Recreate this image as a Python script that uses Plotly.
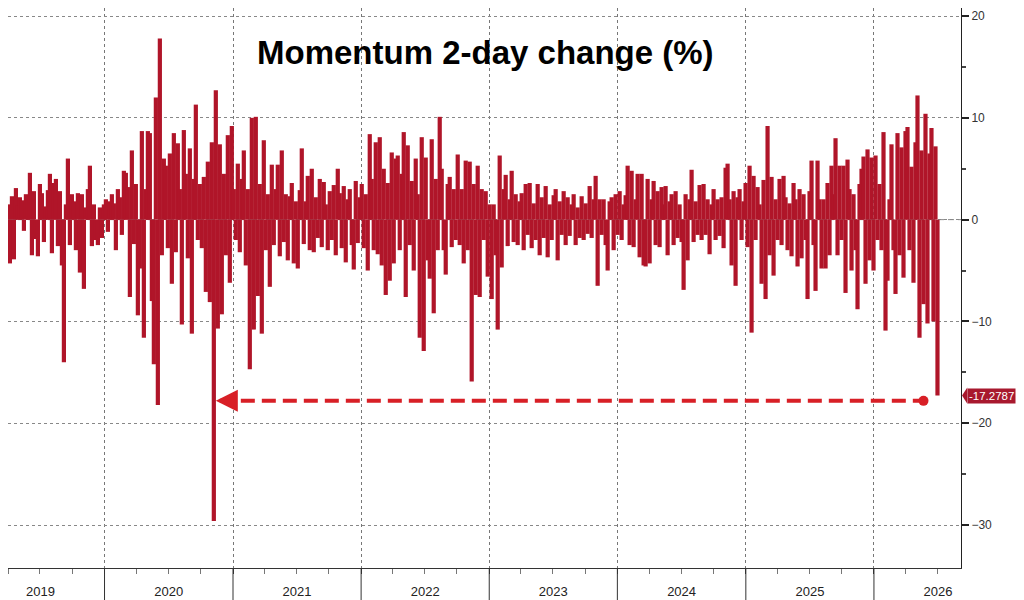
import pandas as pd
import plotly.graph_objects as go

# momentum 2-day change (%) (about one value every ~6 days)
start_date = "2019-03-09"
end_date = "2026-07-01"
values = [
    1.8, -1.2, 2.1, -2.4, 1.5, -4.3, 2.3, -3.9, 3.1, 1.4, 2.2, 1.9, -1.1, 2.5, 2.0, 4.6, -3.5, 2.8, -1.9, -3.6, 3.5, 2.6, -2.2, 1.3, 2.9,
    4.5, -3.3, 3.6, 4.0, -2.6, 2.8, -4.5, -14.0, 1.5, 6.0, -2.5, 2.5, 1.8, -3.0, 2.6, -5.2, 2.5, -6.8, 1.2, 3.0, 5.3, -2.6, 1.5, -2.0, -2.5,
    1.2, -1.8, 1.5, 2.0, -1.2, 1.8, 2.5, 1.6, -3.0, 3.0, 2.2, -1.5, 4.8, 4.6, 3.2, -7.6, 6.8, -2.4, 3.5, -9.4, -4.8, 8.7, -11.6, 3.0, 8.7,
    8.5, -8.0, -14.2, 12.0, -18.2, 17.8, -3.5, 6.0, 5.3, -2.8, 6.5, -6.3, 8.5, -3.2, 7.5, 3.0, -10.3, 8.8, 4.5, -3.8, 7.0, -11.2, 4.0, 11.3, -2.0,
    3.5, -2.8, 4.2, -7.1, 5.7, -8.1, 7.6, -29.6, 12.7, -10.7, 7.4, -9.3, 4.5, -3.5, 8.3, -6.2, 9.2, 3.0, -2.0, 5.5, -3.2, 4.0, 6.8, -4.5, 3.0,
    -14.7, 10.0, -10.8, 10.1, -7.5, 3.5, -11.2, 7.8, -3.0, 2.5, -6.6, 5.4, -2.5, 3.0, 5.4, -3.6, 6.8, -2.2, 2.5, -4.0, 2.3, 3.6, -4.3, 1.8, -4.8,
    2.9, 7.0, -2.4, 1.8, 4.3, -3.0, 5.0, -3.2, 2.2, -1.8, 4.0, -2.7, 3.7, 1.5, -3.0, 2.8, -2.0, 3.4, -3.5, 5.0, 2.6, -2.8, 3.3, -4.2, 2.0,
    3.0, -2.5, -4.9, 3.8, -2.3, 2.2, 3.5, -2.8, 2.5, -5.0, 8.4, 4.0, -3.0, 7.6, -3.4, 8.1, -4.5, 5.0, -7.4, 3.6, -6.0, 6.6, -4.3, 6.0, 6.3,
    -3.0, 4.5, 8.6, -7.6, 7.3, -2.5, 3.8, -5.0, 6.0, 2.5, -11.6, 8.1, -12.9, 6.1, -4.0, -5.8, 7.9, -9.2, 4.0, -3.0, 10.1, 5.0, -3.0, -5.4, 3.5,
    4.2, -2.7, 3.0, -2.0, 6.4, -2.5, 3.0, -4.3, 5.8, -3.0, 5.7, -15.9, 3.5, -7.4, 5.3, -7.6, 3.0, -2.0, 2.8, -5.6, 1.5, -7.8, 1.5, -3.5, -10.8,
    6.3, -4.7, 3.0, 4.4, -2.6, 2.0, 4.8, -2.2, 2.5, -2.5, 1.8, 2.6, -3.0, 3.5, -1.5, 3.6, -2.8, 1.6, -2.0, 3.5, -3.5, 2.2, -1.8, 3.3, -3.7,
    1.5, -2.0, 2.4, 3.0, -4.0, 1.8, -1.5, 2.8, -2.5, 2.2, -1.6, 1.5, 2.5, -2.5, 1.2, -1.8, 2.3, -2.0, 1.6, -1.4, 3.3, -1.8, 2.0, 4.3, -6.5,
    2.0, -1.5, 2.0, -2.5, -5.0, 1.8, 2.2, -3.0, 2.5, -1.5, 2.8, -2.0, 1.5, 2.4, 5.3, -2.5, 4.8, -2.7, 2.0, 4.5, -3.7, 4.5, -4.5, -4.6, 4.0,
    -4.3, 2.0, 3.8, -2.5, 2.8, -2.7, 3.2, 1.5, 3.3, -3.5, 1.8, 2.5, -2.5, 2.8, -1.8, 1.5, -2.2, -6.9, 2.5, -4.0, 2.0, 4.9, -2.2, 1.8, -1.5,
    3.4, -2.0, 3.5, -1.5, 2.0, -3.4, 1.5, 3.0, -2.0, 2.0, -1.6, 2.2, -2.8, 5.1, 5.5, 2.0, -4.5, 2.8, -6.5, 2.2, 3.0, -2.0, 1.8, 3.6, -2.7,
    5.3, -11.1, 4.3, -2.0, 3.2, 1.5, -6.3, 3.9, -7.8, 9.2, -3.5, 4.2, -5.5, 2.0, -2.0, 4.0, -2.5, 4.3, 2.2, -3.0, 1.6, -3.6, 3.6, 2.0, -4.6,
    3.0, -3.8, 2.5, -2.0, -7.8, 2.8, 5.8, -2.5, -7.0, 5.8, 2.0, -4.8, 2.0, -4.8, 3.6, -3.5, 5.3, 2.5, 8.0, -3.5, 5.3, -2.0, 5.3, -7.2, 5.9,
    3.0, -5.0, 2.5, -3.0, -8.8, 3.5, 5.0, 6.2, -6.3, 6.9, -4.0, 6.1, -5.0, 6.3, -2.0, 3.5, -3.0, 8.6, -10.9, -6.0, 2.0, 7.4, -3.0, -7.3, 8.5,
    -3.5, 7.1, -5.7, 8.7, 9.1, -3.0, 5.2, -6.2, 7.6, 12.2, -11.6, 6.8, -8.3, 10.4, -10.2, 6.5, 9.0, -10.0, 7.2, -17.2787,
]
dates = pd.date_range(start_date, end_date, periods=len(values))

years = [2020, 2021, 2022, 2023, 2024, 2025, 2026]
last_value = values[-1]
crash_idx = values.index(min(values))   # the Nov 2020 drop the arrow points back to
arrow_level = -17.8

bar_red = "#b01529"
arrow_red = "#d81f26"

# histogram spikes: one vertical stroke from 0 to each value
spike_x, spike_y = [], []
for d, v in zip(dates, values):
    spike_x += [d, d, None]
    spike_y += [0, v, None]

fig = go.Figure()

fig.add_trace(go.Scatter(
    x=spike_x,
    y=spike_y,
    mode="lines",
    line=dict(color=bar_red, width=4.2),
    showlegend=False,
    hoverinfo="skip",
))

# dashed comparison line + dot at the latest reading
fig.add_trace(go.Scatter(
    x=[dates[crash_idx + 3], dates[-8]],
    y=[arrow_level, arrow_level],
    mode="lines",
    line=dict(color=arrow_red, width=4, dash="14px,7px"),
    showlegend=False,
))
fig.add_trace(go.Scatter(
    x=[dates[-8]],
    y=[arrow_level],
    mode="markers",
    marker=dict(color=arrow_red, size=10),
    showlegend=False,
))
fig.add_annotation(
    x=dates[crash_idx + 1], y=arrow_level,
    xref="x", yref="y",
    ax=22, ay=0,
    text="", showarrow=True,
    arrowhead=2, arrowsize=1.1, arrowwidth=4, arrowcolor=arrow_red,
)

# zero line (dashed)
fig.add_shape(type="line", xref="paper", x0=0, x1=1, yref="y", y0=0, y1=0,
              line=dict(color="#8a8a8a", width=1, dash="6px,4px"), layer="below")

# year separators under the axis
for y in years:
    fig.add_shape(type="line", xref="x", x0=f"{y}-01-01", x1=f"{y}-01-01",
                  yref="paper", y0=0, y1=-0.07, line=dict(color="#333", width=1))

# last value tag
fig.add_annotation(
    x=1, xref="paper", xanchor="left", xshift=6,
    y=last_value, yref="y",
    text=f"{last_value}", showarrow=False,
    font=dict(family="Liberation Sans, Arial", size=11.5, color="white"),
    bgcolor="#a8192e", borderpad=1,
)
fig.add_shape(type="path", xref="paper", yref="y", fillcolor="#a8192e", line=dict(width=0),
              path=f"M 1.0011,{last_value} L 1.0066,{last_value + 0.8} L 1.0066,{last_value - 0.8} Z")

# title
fig.add_annotation(
    x=0.501, y=0.921, xref="paper", yref="paper", yanchor="middle",
    text="<b>Momentum 2-day change (%)</b>", showarrow=False,
    font=dict(family="Liberation Sans, Arial", size=33, color="black"),
)

fig.update_layout(
    width=1016, height=592,
    margin=dict(l=0, r=63, t=0, b=32),
    plot_bgcolor="white", paper_bgcolor="white",
    xaxis=dict(
        type="date",
        range=["2019-04-01", "2026-09-06"],
        tick0="2019-01-01", dtick="M12", tickformat="%Y",
        ticklabelmode="period",
        ticks="outside", ticklen=5, tickcolor="#333",
        ticklabelstandoff=6,
        minor=dict(dtick="M3", ticks="outside", ticklen=5, tickcolor="#777", showgrid=False),
        showline=True, linecolor="#333", linewidth=1,
        showgrid=True, gridcolor="#777", griddash="dot", gridwidth=1,
        tickfont=dict(family="Liberation Sans Narrow, Arial Narrow, Arial", size=13, color="#222"),
    ),
    yaxis=dict(
        side="right",
        range=[-34.22, 20.79],
        tickvals=[-30, -20, -10, 0, 10, 20],
        ticks="outside", ticklen=7, tickwidth=2, tickcolor="#222",
        minor=dict(tickvals=[-25, -15, -5, 5, 15], ticks="outside", ticklen=4, tickcolor="#444", showgrid=False),
        showline=True, linecolor="#222", linewidth=1,
        showgrid=True, gridcolor="#888", griddash="dot", gridwidth=1,
        zeroline=False,
        tickfont=dict(family="Liberation Sans, Arial", size=12, color="#333"),
    ),
)

fig.write_html("out.html")
